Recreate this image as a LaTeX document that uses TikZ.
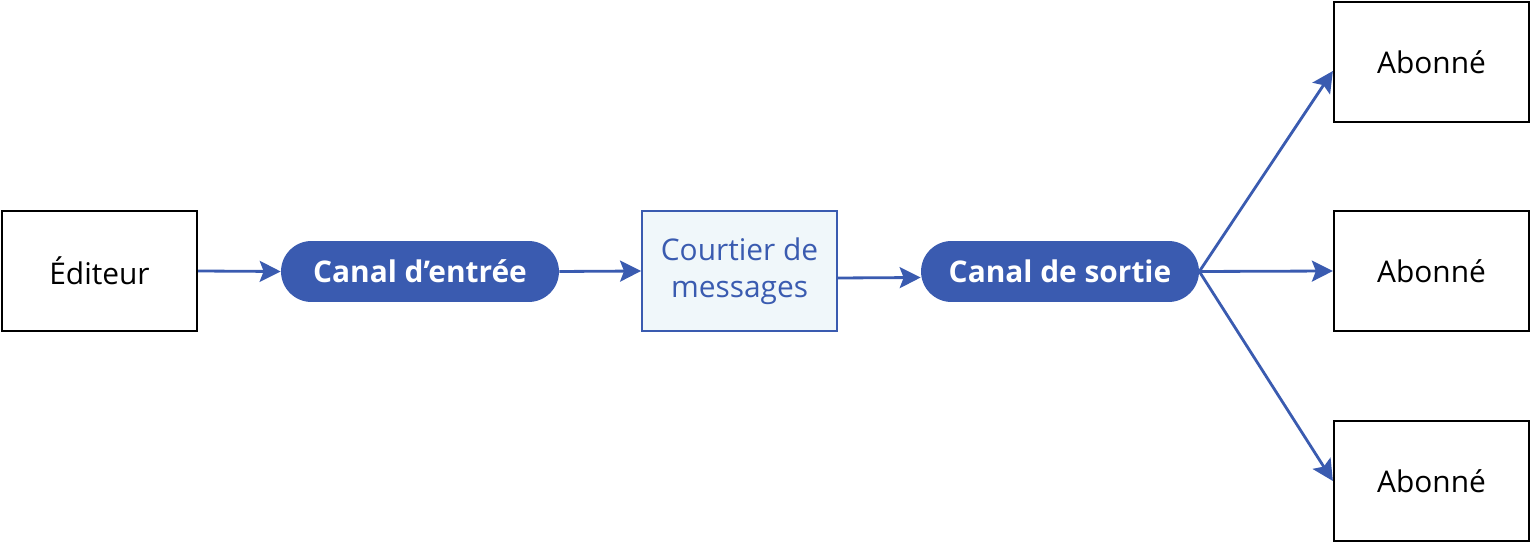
\documentclass[tikz,border=0pt]{standalone}
\usepackage{fontspec}
\setmainfont{Open Sans}
\usetikzlibrary{arrows.meta}
\definecolor{flowblue}{HTML}{3A5BB0}
\definecolor{brokerfill}{HTML}{F0F7FA}
\tikzset{
  actor/.style={draw=black,line width=1.3pt,minimum width=3.9cm,minimum height=2.4cm,font=\fontsize{17}{20}\selectfont},
  channel/.style={fill=flowblue,text=white,rounded corners=0.61cm,minimum width=5.56cm,minimum height=1.22cm,font=\fontsize{17}{20}\selectfont\bfseries},
  broker/.style={draw=flowblue,fill=brokerfill,text=flowblue,line width=1.1pt,minimum width=3.9cm,minimum height=2.4cm,align=center,font=\fontsize{17}{21}\selectfont},
  flow/.style={draw=flowblue,line width=1.6pt,-{Stealth[length=0.42cm,width=0.42cm,inset=0.08cm]}}
}
\begin{document}
\begin{tikzpicture}[x=0.02cm,y=-0.02cm]
   \useasboundingbox (0,0) rectangle (1531,543);
   % nodes
   \node[actor] (editeur) at (99.5,271) {Éditeur};
   \node[channel] (entree) at (420,271.5) {Canal d’entrée};
   \node[broker] (courtier) at (739.5,271) {Courtier de\\messages};
   \node[channel] (sortie) at (1060,271.5) {Canal de sortie};
   \node[actor] (abonne1) at (1431.5,62) {Abonné};
   \node[actor] (abonne2) at (1431.5,271) {Abonné};
   \node[actor] (abonne3) at (1431.5,481) {Abonné};
   % connectors
   \draw[flow] (editeur.east) -- (entree.west);
   \draw[flow] (entree.east) -- (courtier.west);
   \draw[flow] ([yshift=-7*0.02cm]courtier.east) -- ([yshift=-6*0.02cm]sortie.west);
   \draw[flow] (sortie.east) -- ([yshift=-9*0.02cm]abonne1.west);
   \draw[flow] (sortie.east) -- (abonne2.west);
   \draw[flow] (sortie.east) -- (abonne3.west);
\end{tikzpicture}
\end{document}
